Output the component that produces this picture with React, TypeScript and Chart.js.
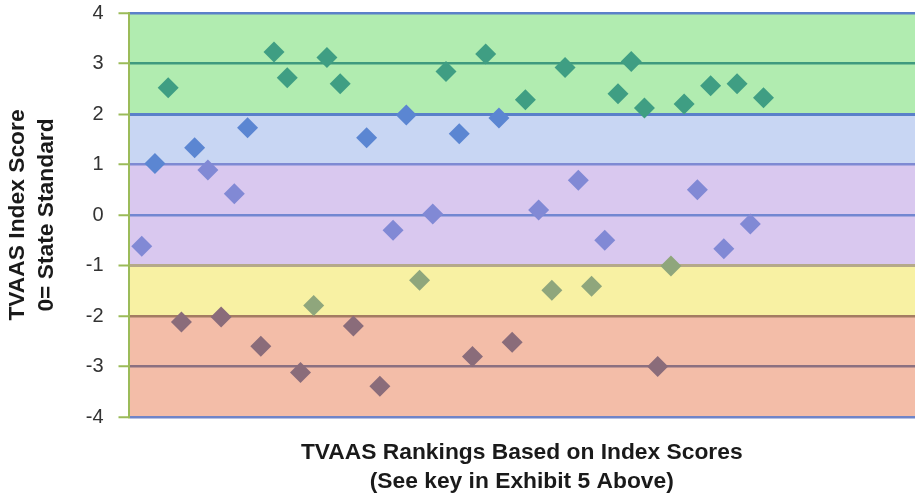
import React, { useEffect, useRef } from "react";
import { Chart, registerables } from "chart.js";

Chart.register(...registerables);

// Rank positions (1..48) and TVAAS index scores
const ranks: number[] = Array.from({ length: 48 }, (_, i) => i + 1);
const scores: number[] = [
  -0.62, 1.02, 2.52, -2.12, 1.33, 0.89, -2.02, 0.42, 1.73, -2.6,
  3.23, 2.72, -3.12, -1.79, 3.12, 2.6, -2.2, 1.53, -3.39, -0.3,
  1.98, -1.29, 0.02, 2.84, 1.61, -2.8, 3.19, 1.92, -2.52, 2.28,
  0.1, -1.49, 2.92, 0.69, -1.41, -0.5, 2.4, 3.04, 2.12, -3.0,
  -1.01, 2.2, 0.5, 2.56, -0.67, 2.6, -0.18, 2.32,
];
const yTickValues: number[] = [4, 3, 2, 1, 0, -1, -2, -3, -4];

// Colour bands (score ranges)
const bandFrom: number[] = [2, 1, -1, -2, -4];
const bandTo: number[] = [4, 2, 1, -1, -2];
const bandFill: string[] = ["#B1ECB0", "#C8D6F3", "#D9C8EF", "#F8F1A3", "#F3BDA8"];
const bandPoint: string[] = ["#3F9E83", "#5B86D2", "#8189D5", "#8FA67C", "#8A6C7A"];

const gridColorFor = (v: number): string => {
  switch (v) {
    case 4: return "#5B80C9";
    case 3: return "#3F9A7E";
    case 2: return "#5A80C9";
    case 1: return "#7E8AD3";
    case 0: return "#7287D1";
    case -1: return "#B5A98A";
    case -2: return "#A47C62";
    case -3: return "#8B7080";
    case -4: return "#6F84C8";
    default: return "#888";
  }
};

const pointColor = (v: number): string => {
  for (let i = 0; i < bandFrom.length; i++) {
    if (v >= bandFrom[i]) return bandPoint[i];
  }
  return bandPoint[bandPoint.length - 1];
};

const bandsPlugin = {
  id: "bands",
  beforeDraw(chart: any) {
    const { ctx, chartArea } = chart;
    const y = chart.scales.y;
    ctx.save();
    for (let i = 0; i < bandFrom.length; i++) {
      const top = y.getPixelForValue(bandTo[i]);
      const bottom = y.getPixelForValue(bandFrom[i]);
      ctx.fillStyle = bandFill[i];
      ctx.fillRect(chartArea.left, top, chartArea.right - chartArea.left, bottom - top);
    }
    ctx.restore();
  },
};

const FONT = "Arial, 'Liberation Sans', sans-serif";

export default function App() {
  const canvasRef = useRef<HTMLCanvasElement | null>(null);

  useEffect(() => {
    if (!canvasRef.current) return;
    const chart = new Chart(canvasRef.current, {
      type: "scatter",
      data: {
        datasets: [
          {
            data: ranks.map((r, i) => ({ x: r, y: scores[i] })),
            pointStyle: "rectRot",
            pointRadius: 10.5,
            pointHoverRadius: 10.5,
            borderWidth: 0,
            backgroundColor: (c: any) => pointColor(c.raw ? c.raw.y : 0),
            borderColor: (c: any) => pointColor(c.raw ? c.raw.y : 0),
          },
        ],
      },
      options: {
        responsive: false,
        animation: false,
        layout: { autoPadding: false, padding: { top: 13, right: 0, bottom: 0, left: 0 } },
        plugins: { legend: { display: false }, tooltip: { enabled: false } },
        scales: {
          x: {
            type: "linear",
            min: 0,
            max: 59.45,
            ticks: { display: false },
            grid: { display: false },
            border: { display: false },
            title: {
              display: true,
              text: ["TVAAS Rankings Based on Index Scores", "(See key in Exhibit 5 Above)"],
              color: "#1a1a1a",
              font: { family: FONT, size: 22.8, weight: "bold", lineHeight: 1.27 },
              padding: { top: 0, bottom: 0 },
            },
            afterFit: (s: any) => {
              s.height = 79;
              s.paddingLeft = 0;
              s.paddingRight = 0;
            },
          },
          y: {
            min: -4,
            max: 4,
            afterBuildTicks: (s: any) => { s.ticks = yTickValues.map((v) => ({ value: v })); },
            ticks: {
              color: "#333333",
              padding: 15,
              font: { family: FONT, size: 20 },
            },
            grid: {
              color: (c: any) => gridColorFor(c.tick ? c.tick.value : 0),
              lineWidth: (c: any) => (c.tick && (c.tick.value === 2 || c.tick.value === -1) ? 3 : 2.5),
              tickColor: "#9BBB59",
              tickLength: 10,
              tickWidth: 2,
            },
            border: { display: true, color: "#9BBB59", width: 2 },
            title: {
              display: true,
              text: ["TVAAS Index Score", "0= State Standard"],
              color: "#1a1a1a",
              font: { family: FONT, size: 22.8, weight: "bold", lineHeight: 1.27 },
              padding: { top: 3.5, bottom: 0 },
            },
            afterFit: (s: any) => {
              s.width = 128.5;
              s.paddingTop = 0;
              s.paddingBottom = 0;
            },
          },
        },
      },
      plugins: [bandsPlugin],
    } as any);
    return () => chart.destroy();
  }, []);

  return (
    <div style={{ position: "fixed", left: 0, top: 0, width: 915, height: 496, background: "#fff" }}>
      <canvas ref={canvasRef} width={915} height={496} />
    </div>
  );
}
